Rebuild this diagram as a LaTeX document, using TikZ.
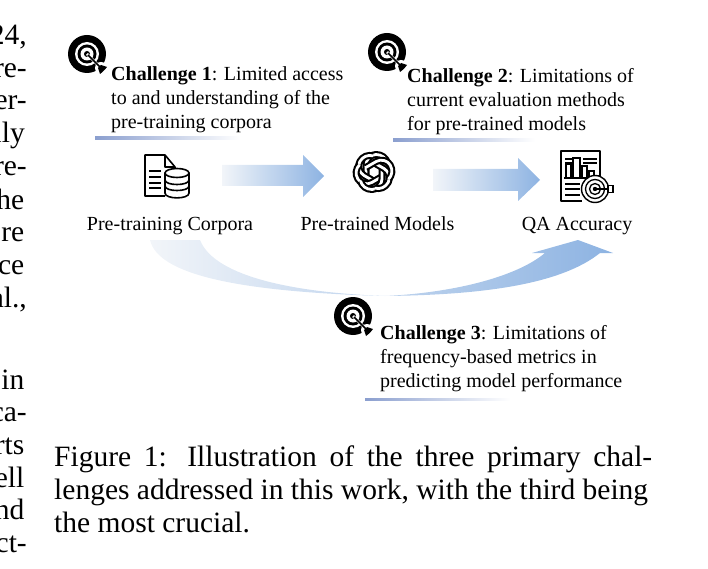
\documentclass[tikz,border=0pt]{standalone}
\usepackage{fontspec}
\setmainfont{Liberation Serif}
\usetikzlibrary{positioning,calc}
\definecolor{flowblue}{HTML}{8DB3E2}
\definecolor{flowpale}{HTML}{F2F5F9}
\definecolor{linkblue}{HTML}{8B9FCF}
\tikzset{
    bodytext/.style={font=\fontsize{29.5}{33}\selectfont,inner sep=0pt,anchor=base west},
    sidetext/.style={font=\fontsize{29.5}{33}\selectfont,inner sep=0pt,anchor=base east},
    labeltext/.style={font=\fontsize{20}{24}\selectfont,inner sep=0pt,anchor=base},
    challengetext/.style={font=\fontsize{20}{24}\selectfont,inner sep=0pt,anchor=north west,align=left},
    targeticon/.pic={
        \fill[black] (0,0) circle (19);
        \fill[white] (0,0) circle (12);
        \fill[black] (0,0) circle (9.5);
        \fill[white] (0,0) circle (6.5);
        \fill[black] (0,0) circle (3);
        \fill[white] (14,14) circle (6);
        \draw[white,line width=2.6] (0,0) -- (14,14);
        \draw[black,line width=1.5] (1,1) -- (13,13);
        \fill[black] (11,14) -- (14,11) -- (20,13) -- (18,15.5) -- (15.5,18) -- (13,20) -- cycle;
    },
    knotlink/.pic={
        \draw[black,line width=7,line join=round]
            (-8,5) -- (-8,-7) .. controls (-8,-13) and (-3,-17.5) .. (2,-17.5)
            .. controls (8,-17.5) and (12,-14) .. (13.5,-9);
        \draw[white,line width=2.8,line join=round]
            (-8,5.5) -- (-8,-7) .. controls (-8,-13) and (-3,-17.5) .. (2,-17.5)
            .. controls (8,-17.5) and (12,-14) .. (13.5,-9);
    }
}
\begin{document}
\begin{tikzpicture}[x=1pt,y=-1pt]
    \useasboundingbox (0,0) rectangle (708,569);

    % Cut text of the left column
    \node[sidetext] (side1) at (27,45) {24,};
    \node[sidetext] (side2) at (27,78) {re-};
    \node[sidetext] (side3) at (27,110) {er-};
    \node[sidetext] (side4) at (25,143) {lly};
    \node[sidetext] (side5) at (27,176) {re-};
    \node[sidetext] (side6) at (24.5,209) {he};
    \node[sidetext] (side7) at (24.5,241) {re};
    \node[sidetext] (side8) at (24.5,274) {ce};
    \node[sidetext] (side9) at (27,307) {al.,};
    \node[sidetext] (side10) at (24.5,389) {in};
    \node[sidetext] (side11) at (27,421) {ca-};
    \node[sidetext] (side12) at (24.5,454) {rts};
    \node[sidetext] (side13) at (24.5,487) {ell};
    \node[sidetext] (side14) at (24.5,519) {nd};
    \node[sidetext] (side15) at (27,552) {ct-};

    % Block arrows
    \shade[left color=flowpale,right color=flowblue]
        (222,165) -- (303,165) -- (303,155) -- (324,176) -- (303,197) -- (303,186) -- (222,186) -- cycle;
    \shade[left color=flowpale,right color=flowblue]
        (433,169) -- (518,169) -- (518,158) -- (540,180) -- (518,201) -- (518,191) -- (433,191) -- cycle;
    \shade[left color=flowpale,middle color=flowblue,right color=flowblue]
        (150,240) .. controls (158,275) and (240,292) .. (385,296)
        .. controls (480,295) and (560,285) .. (600,253)
        -- (613,253) -- (578,240) -- (532,253) -- (545,253)
        .. controls (515,278) and (450,293) .. (385,296)
        .. controls (300,293) and (215,278) .. (200,240) -- cycle;

    % Underlines
    \shade[left color=linkblue,right color=white] (95,137) rectangle (240,139.5);
    \shade[left color=linkblue,right color=white] (393,139) rectangle (535,141.5);
    \shade[left color=linkblue,right color=white] (365,398) rectangle (510,400.5);

    % Target icons
    \pic at (87,54) {targeticon};
    \pic at (387,52) {targeticon};
    \pic at (353,316) {targeticon};

    % Challenges
    \node[challengetext] (challenge1) at (111,66.5) {\textbf{Challenge 1}: Limited access\\to and understanding of the\\pre-training corpora};
    \node[challengetext] (challenge2) at (407,68) {\textbf{Challenge 2}: Limitations of\\current evaluation methods\\for pre-trained models};
    \node[challengetext] (challenge3) at (380,325.5) {\textbf{Challenge 3}: Limitations of\\frequency-based metrics in\\predicting model performance};

    % Corpora icon
    \draw[black,line width=1.6,line join=round,fill=white]
        (175,169) -- (175,167) -- (165,155) -- (145,155) -- (145,196) -- (165,196);
    \draw[black,line width=1.6,line join=round] (165,155) -- (165,167) -- (175,167);
    \foreach \y in {171,177,183,188}
        \draw[black,line width=1.6] (149,\y) -- (161,\y);
    \draw[black,line width=1.6,fill=white] (165,173) -- (165,193)
        .. controls (165,199.5) and (189,199.5) .. (189,193) -- (189,173);
    \draw[black,line width=1.6,fill=white] (177,173) ellipse (12 and 4.5);
    \draw[black,line width=1.6] (165,180) .. controls (165,186) and (189,186) .. (189,180);
    \draw[black,line width=1.6] (165,186) .. controls (165,192) and (189,192) .. (189,186);

    % Model icon
    \foreach \ang in {0,60,...,300}
        \pic[rotate=\ang] at (374,172) {knotlink};

    % Accuracy icon
    \draw[black,line width=1.6,line join=round] (592,176) -- (600,176) -- (600,151) -- (561,151) -- (561,201) -- (582,201);
    \foreach \xa/\xb/\t in {566/571/164,573/580/158,582/587/166,589/594/171}
        \draw[black,line width=1.3] (\xa,178) -- (\xa,\t) -- (\xb,\t) -- (\xb,178);
    \draw[black,line width=1.3] (564,178) -- (597,178);
    \foreach \y in {159,163}
        \draw[black,line width=1.3] (583,\y) -- (597,\y);
    \foreach \y in {159,163}
        \draw[black,line width=1.3] (565,\y) -- (572,\y);
    \foreach \y in {184,189,195}
        \draw[black,line width=1.6] (565,\y) -- (580,\y);
    \draw[black,line width=1.4,fill=white] (595,189) circle (13.5);
    \draw[black,line width=1.3] (595,189) circle (9.5);
    \draw[black,line width=1.3] (595,189) circle (5.5);
    \fill[black] (595,189) circle (2.2);
    \draw[black,line width=1.4] (595,189) -- (608,189);
    \draw[black,line width=1.4,fill=white] (608,185.5) rectangle (613,192.5);

    % Stage labels
    \node[labeltext] (corpora) at (170,230) {Pre-training Corpora};
    \node[labeltext] (models) at (377.5,230) {Pre-trained Models};
    \node[labeltext] (accuracy) at (577,230) {QA Accuracy};

    % Caption
    \node[bodytext] (line1) at (54,466) {\makebox[598pt][s]{Figure 1: Illustration of the three primary chal-}};
    \node[bodytext] (line2) at (54,499) {lenges addressed in this work, with the third being};
    \node[bodytext] (line3) at (54,532) {the most crucial.};
\end{tikzpicture}
\end{document}
